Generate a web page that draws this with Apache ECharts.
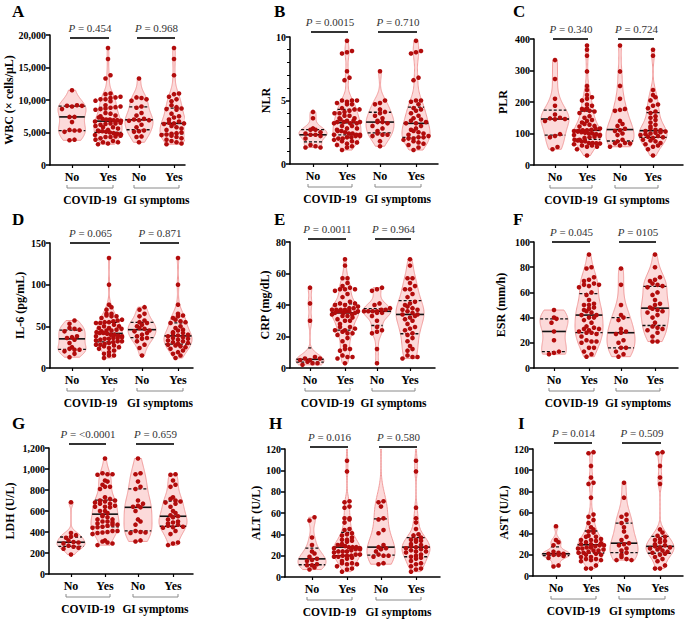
<!DOCTYPE html>
<html><head><meta charset="utf-8">
<script src="https://cdn.jsdelivr.net/npm/echarts@6/dist/echarts.min.js"></script>
<style>html,body{margin:0;padding:0;background:#fff}#c{width:685px;height:620px}</style>
</head><body><div id="c"></div>
<script>
// ---------- text ----------
const panelLetters = ['A','B','C','D','E','F','G','H','I'];
const yTitles = ['WBC (\u00d7 cells/\u03bcL)','NLR','PLR','IL-6 (pg/mL)','CRP (mg/dL)','ESR (mm/h)','LDH (U/L)','ALT (U/L)','AST (U/L)'];
const groupLabels = ['No','Yes','No','Yes'];
const factorLabels = ['COVID-19','GI symptoms'];
const pValues = [['0.454','0.968'],['0.0015','0.710'],['0.340','0.724'],['0.065','0.871'],['0.0011','0.964'],['0.045','0105'],['<0.0001','0.659'],['0.016','0.580'],['0.014','0.509']];
const yMaxes = [20000,10,400,150,80,100,1200,120,120];
const yIntervals = [5000,5,100,50,20,20,200,20,20];

// ---------- values ----------
const wbcCovidNo = [11500,9200,9100,9100,9000,8600,7400,7400,6600,5400,5300,5300,5100,3900,3800];
const wbcGiNo = [13300,10400,10300,10100,9900,9000,8800,8000,7600,7100,7000,6900,6900,6800,6200,5800,5300,5200,5100,4400,4300,3500];
const wbcGiYes = [18000,16300,13800,11000,10900,10500,10100,9800,9200,8900,8700,8600,8500,7900,7500,7300,7000,6700,6500,6400,6400,6300,6000,5800,5600,5400,5200,5000,4900,4800,4700,4600,4500,4300,4100,3900,3700,3500,3300,3200];

const nlrCovidNo = [4.1,3.6,2.8,2.7,2.7,2.5,2.4,2.3,2.3,2.2,2.0,1.5,1.4,1.3,1.3];
const nlrGiNo = [7.3,5.0,4.8,4.7,4.3,4.1,4.0,3.8,3.6,3.4,3.3,3.3,3.2,3.0,2.8,2.6,2.4,2.3,2.3,2.2,1.8,1.4];
const nlrGiYes = [9.7,8.9,8.8,8.7,6.8,6.6,5.0,5.0,4.9,4.7,4.4,4.3,4.2,4.0,3.8,3.6,3.5,3.4,3.3,3.2,3.2,3.0,2.8,2.7,2.6,2.5,2.4,2.3,2.2,2.1,2.1,2.0,2.0,1.9,1.8,1.7,1.6,1.5,1.3,1.1];

const plrCovidNo = [333,273,210,188,160,150,148,146,145,140,98,92,88,57,50];
const plrGiNo = [379,297,251,210,178,175,172,140,130,124,115,110,108,100,95,80,75,70,69,68,62,58];
const plrGiYes = [366,347,238,222,215,205,192,188,180,170,165,155,150,143,135,128,122,116,112,110,108,106,104,102,100,98,95,92,90,88,86,80,78,75,70,66,62,58,50,30];

const il6CovidNo = [57,53,48,47,46,44,38,37,36,34,30,25,23,22,22,20,17,13];
const il6GiNo = [73,70,65,62,57,55,54,52,50,48,47,45,44,42,40,38,36,35,32,28,24,15];
const il6GiYes = [132,100,76,65,63,62,60,58,56,55,54,50,48,46,45,43,42,41,40,39,38,37,36,35,34,33,32,31,30,29,28,27,26,25,23,21,19,17,15,12];

const crpCovidNo = [51,41,30,7,6,6,5,5,4,3,3,2];
const crpGiNo = [51,50,49,41,40,38,37,37,36,36,36,36,35,35,33,30,26,24,23,22,12,3];
const crpGiYes = [69,65,57,57,54,52,50,50,47,45,42,41,40,39,38,37,37,36,35,34,34,33,32,31,30,28,26,25,24,22,21,19,17,14,12,11,8,7,7,6];

const esrCovidNo = [46,40,39,36,29,22,13,12,11];
const esrGiNo = [79,66,50,42,40,38,31,29,28,27,22,20,16,16,13,11,9];
const esrGiYes = [90,80,72,70,69,67,66,65,64,60,58,54,51,50,48,47,46,45,44,42,40,36,33,32,31,30,28,25,21,21];

const ldhCovidNo = [683,390,370,355,345,320,305,300,290,270,260,250,240,185];
const ldhGiNo = [1100,960,950,880,830,810,700,670,650,640,635,600,520,500,470,410,400,395,390,320,310];
const ldhGiYes = [950,945,890,850,830,730,715,700,690,680,670,640,600,580,560,550,540,520,500,490,480,470,460,450,445,440,410,380,300,290,275];

const altCovidNo = [56,53,37,30,24,22,19,17,16,15,12,11,11,9,7];
const altGiNo = [140,71,70,66,55,54,44,41,30,28,27,26,24,21,20,20,19,13,12];
const altGiYes = [128,109,99,65,55,51,45,40,39,37,35,35,34,33,31,30,29,28,28,27,26,25,24,24,23,21,20,19,18,17,15,13,12,10,8,7,5];

const astCovidNo = [47,34,32,29,23,22,21,21,20,20,19,17,10,9];
const astGiNo = [88,74,58,56,53,50,46,42,37,34,31,30,29,26,24,22,20,18,16,15,15];
const astGiYes = [117,116,104,93,87,44,41,38,37,35,34,33,32,30,29,28,27,27,26,25,24,23,22,21,20,18,16,14,10,7,7];

// COVID-19 "Yes" patients are those with and without GI symptoms
const panelSets = [
  [wbcCovidNo, wbcGiNo, wbcGiYes],
  [nlrCovidNo, nlrGiNo, nlrGiYes],
  [plrCovidNo, plrGiNo, plrGiYes],
  [il6CovidNo, il6GiNo, il6GiYes],
  [crpCovidNo, crpGiNo, crpGiYes],
  [esrCovidNo, esrGiNo, esrGiYes],
  [ldhCovidNo, ldhGiNo, ldhGiYes],
  [altCovidNo, altGiNo, altGiYes],
  [astCovidNo, astGiNo, astGiYes]
];

// ---------- layout (pixels) ----------
const layout = [
  {left:50, top:35, width:135, height:130, gp:[22,58,89,124], nameGap:33, barDy:3,  lx:12,  ly:3},
  {left:290,top:37, width:148, height:127, gp:[23,57,90,126], nameGap:17, barDy:-5, lx:274, ly:3},
  {left:534,top:39, width:149, height:126, gp:[21,53,86,119], nameGap:25, barDy:0,  lx:513, ly:3},
  {left:50, top:243,width:143, height:125, gp:[22,59,92,128], nameGap:24, barDy:0,  lx:12,  ly:211},
  {left:290,top:242,width:145, height:126, gp:[20,55,87,120], nameGap:19, barDy:-3, lx:274, ly:211},
  {left:534,top:242,width:144, height:126, gp:[20,55,87,121], nameGap:27, barDy:0,  lx:513, ly:211},
  {left:49, top:448,width:144, height:126, gp:[22,56,89,124], nameGap:33, barDy:-4, lx:12,  ly:415},
  {left:285,top:449,width:155, height:128, gp:[27,62,96,131], nameGap:16, barDy:-2, lx:269, ly:415},
  {left:533,top:449,width:150, height:127, gp:[23,58,91,127], nameGap:17, barDy:-6, lx:518, ly:415}
];

const SERIF = '"Liberation Serif", "Times New Roman", serif';
const HW = 14;           // max half width of a violin (px)
const DOT = 4.6;         // dot diameter (px)
const VIOLIN_FILL = 'rgba(250,196,196,0.62)';
const VIOLIN_STROKE = '#f29c9c';
const DOT_COLOR = '#b20c0c';

function quantile(s, q){ const p=(s.length-1)*q, lo=Math.floor(p), hi=Math.ceil(p); return s[lo]+(s[hi]-s[lo])*(p-lo); }

function violinOf(values){
  const s=[...values].sort((a,b)=>a-b), n=s.length;
  const mean=s.reduce((a,b)=>a+b,0)/n;
  const sd=Math.sqrt(s.reduce((a,b)=>a+(b-mean)*(b-mean),0)/(n-1));
  const iqr=quantile(s,.75)-quantile(s,.25);
  const h=0.9*Math.min(sd, (iqr/1.34)||sd)*Math.pow(n,-0.2);
  const dens=y=>{let d=0; for(const v of s){const u=(y-v)/h; d+=Math.exp(-0.5*u*u);} return d;};
  const lo=s[0], hi=s[n-1], steps=90, raw=[];
  for(let k=0;k<=steps;k++){const y=lo+(hi-lo)*k/steps; raw.push([y,dens(y)]);}
  const mx=Math.max(...raw.map(p=>p[1]));
  return {pts:raw.map(p=>[p[0],p[1]/mx]), w:y=>dens(y)/mx,
          med:quantile(s,.5), q1:quantile(s,.25), q3:quantile(s,.75)};
}

// dots arranged in horizontal rows (Prism-like scatter spread)
function rowOffsets(values, pxPerY, cap){
  const idx=values.map((_,i)=>i).sort((a,b)=>values[a]-values[b]);
  const off=new Array(values.length).fill(0);
  let i=0;
  while(i<idx.length){
    const start=values[idx[i]]; let j=i;
    while(j<idx.length && (values[idx[j]]-start)*pxPerY < DOT*0.85) j++;
    const row=idx.slice(i,j), n=row.length;
    const sp=n>1?Math.min(DOT+0.4, 2*cap/(n-1)):0;
    const order=row.map((id,k)=>({id,k})).sort((a,b)=>((a.k*7)%n)-((b.k*7)%n));
    order.forEach((o,k)=>{off[o.id]=(k-(n-1)/2)*sp;});
    i=j;
  }
  return off;
}

const grids=[], xAxes=[], yAxes=[], series=[], graphics=[];

panelSets.forEach((set,i)=>{
  const L=layout[i], yMax=yMaxes[i];
  const groups=[set[0], set[1].concat(set[2]), set[1], set[2]];
  const violins=groups.map(violinOf);
  const pxPerY=L.height/yMax;

  grids.push({left:L.left, top:L.top, width:L.width, height:L.height});
  xAxes.push({
    type:'value', gridIndex:i, min:0, max:L.width,
    axisLine:{show:true, onZero:false, lineStyle:{color:'#000', width:1.5}},
    axisTick:{show:true, customValues:L.gp, length:3, lineStyle:{color:'#000', width:1.2}},
    axisLabel:{show:true, customValues:L.gp, margin:6, hideOverlap:false,
      fontFamily:SERIF, fontWeight:'bold', fontSize:12, color:'#000',
      formatter:v=>{let k=0,b=1e9; L.gp.forEach((g,j)=>{if(Math.abs(g-v)<b){b=Math.abs(g-v);k=j;}}); return groupLabels[k];}},
    splitLine:{show:false}
  });
  yAxes.push({
    type:'value', gridIndex:i, min:0, max:yMax, interval:yIntervals[i],
    name:yTitles[i], nameLocation:'middle', nameGap:L.nameGap, nameRotate:90,
    nameTextStyle:{fontFamily:SERIF, fontWeight:'bold', fontSize:12, color:'#000'},
    axisLine:{show:true, lineStyle:{color:'#000', width:1.5}},
    axisTick:{show:true, length:4, lineStyle:{color:'#000', width:1.5}},
    minorTick: i===1 ? {show:true, splitNumber:5, length:3, lineStyle:{color:'#000', width:1}} : {show:false},
    axisLabel:{fontFamily:SERIF, fontWeight:'bold', fontSize:10, color:'#000', margin:4,
      formatter:v=>v.toLocaleString('en-US')},
    splitLine:{show:false}
  });

  // violins
  series.push({
    type:'custom', xAxisIndex:i, yAxisIndex:i, clip:true, silent:true, z:1,
    data:[[0,0],[1,0],[2,0],[3,0]],
    renderItem:(params,api)=>{
      const g=api.value(0), V=violins[g], xc=L.gp[g];
      const right=V.pts.map(([y,w])=>api.coord([xc+w*HW, y]));
      const left=V.pts.slice().reverse().map(([y,w])=>api.coord([xc-w*HW, y]));
      return {type:'polygon', shape:{points:right.concat(left)},
        style:{fill:VIOLIN_FILL, stroke:VIOLIN_STROKE, lineWidth:1}};
    }
  });
  // median & quartile lines
  series.push({
    type:'custom', xAxisIndex:i, yAxisIndex:i, clip:true, silent:true, z:2,
    data:[[0,0],[1,0],[2,0],[3,0]],
    renderItem:(params,api)=>{
      const g=api.value(0), V=violins[g], xc=L.gp[g];
      const mk=(y,dash,lw)=>{const w=V.w(y)*HW; const a=api.coord([xc-w,y]), b=api.coord([xc+w,y]);
        return {type:'line', shape:{x1:a[0],y1:a[1],x2:b[0],y2:b[1]}, style:{stroke:'#111', lineWidth:lw, lineDash:dash}};};
      return {type:'group', children:[mk(V.q1,[3,2],1.3), mk(V.q3,[3,2],1.3), mk(V.med,null,1.6)]};
    }
  });
  // dots
  const pts=[];
  groups.forEach((vals,g)=>{
    const off=rowOffsets(vals, pxPerY, 13);
    vals.forEach((v,k)=>pts.push([L.gp[g]+off[k], v]));
  });
  series.push({type:'scatter', xAxisIndex:i, yAxisIndex:i, data:pts, symbolSize:DOT, clip:true, silent:true, z:3,
    itemStyle:{color:DOT_COLOR, opacity:1}});
  // P bars, brackets, factor labels
  series.push({
    type:'custom', xAxisIndex:i, yAxisIndex:i, clip:false, silent:true, z:4,
    data:[[0,0],[1,0]],
    renderItem:(params,api)=>{
      const k=api.value(0);
      const a=api.coord([L.gp[2*k],0]), b=api.coord([L.gp[2*k+1],0]), t=api.coord([L.gp[2*k],yMax]);
      const barY=t[1]+L.barDy, by=a[1]+23, mid=(a[0]+b[0])/2;
      return {type:'group', children:[
        {type:'line', shape:{x1:a[0]-2,y1:barY,x2:b[0]+1,y2:barY}, style:{stroke:'#333', lineWidth:2}},
        {type:'text', style:{text:'{i|P} = '+pValues[i][k], x:mid, y:barY-10, align:'center', verticalAlign:'middle',
          fontFamily:SERIF, fontSize:11, fill:'#333',
          rich:{i:{fontStyle:'italic', fontFamily:SERIF, fontSize:11, fill:'#333'}}}},
        {type:'polyline', shape:{points:[[a[0]-5,by-3],[a[0]-5,by],[b[0]+5,by],[b[0]+5,by-3]]},
          style:{stroke:'#8a8a8a', lineWidth:1, fill:null}},
        {type:'text', style:{text:factorLabels[k], x:mid, y:a[1]+35, align:'center', verticalAlign:'middle',
          fontFamily:SERIF, fontWeight:'bold', fontSize:11.5, fill:'#000'}}
      ]};
    }
  });
  graphics.push({type:'text', left:L.lx, top:L.ly,
    style:{text:panelLetters[i], fontFamily:SERIF, fontWeight:'bold', fontSize:17, fill:'#000'}});
});

const chart=echarts.init(document.getElementById('c'), null, {renderer:'svg', width:685, height:620});
chart.setOption({animation:false, backgroundColor:'#fff', grid:grids, xAxis:xAxes, yAxis:yAxes, series, graphic:graphics});
</script></body></html>
